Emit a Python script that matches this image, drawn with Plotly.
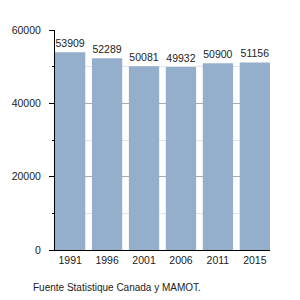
import plotly.graph_objects as go

years = ["1991", "1996", "2001", "2006", "2011", "2015"]
population = [53909, 52289, 50081, 49932, 50900, 51156]
y_ticks = [0, 20000, 40000, 60000]

fig = go.Figure(go.Bar(
    x=years, y=population,
    text=[str(v) for v in population], textposition="outside",
    textfont=dict(family="Liberation Sans, Arial", size=10.5, color="#222"),
    marker=dict(color="#94afcc", line=dict(width=0)),
    width=0.82, cliponaxis=False,
))
fig.update_layout(
    width=300, height=300,
    margin=dict(l=51, r=30, t=30, b=50),
    paper_bgcolor="white", plot_bgcolor="white",
    showlegend=False,
    font=dict(family="Liberation Sans, Arial", size=10.5, color="#222"),
    xaxis=dict(range=[-0.41, 5.41], showline=True, linecolor="black", linewidth=1,
               ticks="", showgrid=False, tickfont=dict(size=10.5), ticklabelstandoff=0),
    yaxis=dict(range=[0, 60000], tickvals=y_ticks, ticktext=[str(v) for v in y_ticks],
               showline=True, linecolor="black",
               linewidth=1, ticks="outside", ticklen=5, tickcolor="black",
               showgrid=True, gridcolor="#aaaaaa", gridwidth=1, zeroline=False,
               tickfont=dict(size=10.5), ticklabelstandoff=6,
               minor=dict(dtick=10000, showgrid=True, gridcolor="#e4e4e4",
                          ticks="outside", ticklen=2, tickcolor="black")),
    annotations=[dict(text="Fuente Statistique Canada y MAMOT.", xref="paper", yref="paper",
                      x=-0.112, y=-0.17, xanchor="left", yanchor="middle",
                      showarrow=False, font=dict(size=10, color="#222"))],
)
fig.write_html("out.html")
